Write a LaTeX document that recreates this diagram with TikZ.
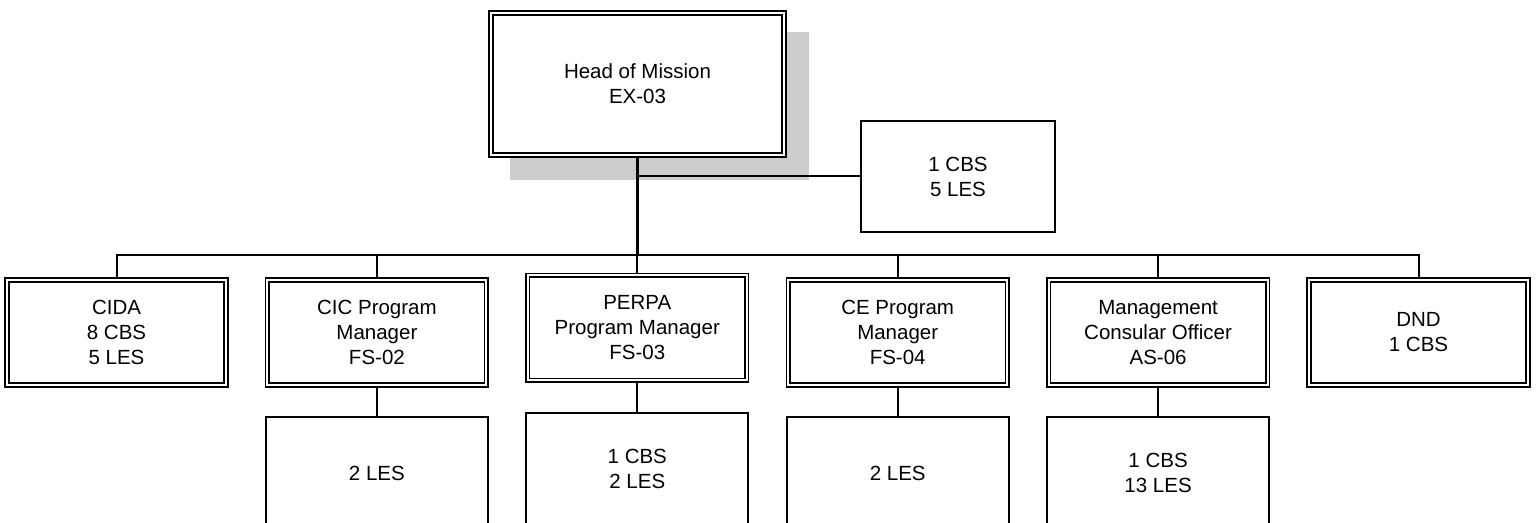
\documentclass[tikz,border=0pt]{standalone}
\usepackage{fontspec}
\setmainfont{Liberation Sans}
\usetikzlibrary{positioning,calc,backgrounds}
\definecolor{shadowGray}{HTML}{CCCCCC}
\tikzset{
  box/.style={draw, fill=white, align=center, inner sep=2pt,
              font=\fontsize{10.25}{12.5}\selectfont},
  % double ruled boxes: outer sep puts the anchors on the outer line
  unit/.style={box, double, line width=0.8pt, double distance=1pt,
               outer sep=1.3pt, minimum width=109.5pt, minimum height=52.5pt},
  staff/.style={box, line width=1pt, outer sep=0pt,
                minimum width=111pt, minimum height=55.5pt},
  wire/.style={line width=1pt},
  trunk/.style={line width=1.7pt},
}

\begin{document}
\begin{tikzpicture}[x=0.5pt, y=-0.5pt]
\clip (0,0) rectangle (1537,523);

% top of the mission
\node[unit, minimum width=146.5pt, minimum height=71pt] (hom) at (637.5,84)
  {Head of Mission\\EX-03};
\begin{scope}[on background layer]
\fill[shadowGray] ([shift={(22,22)}]hom.south west)
  rectangle ([shift={(22,22)}]hom.north east);
\end{scope}
\node[staff, minimum width=97pt] (side) at (958,176.5) {1 CBS\\5 LES};

% programs
\node[unit] (cida) at (116.5,332.5) {CIDA\\8 CBS\\5 LES};
\node[unit] (cic)  at (376.9,332.5) {CIC Program\\Manager\\FS-02};
\node[unit] (perpa) at (637.3,328) {PERPA\\Program Manager\\FS-03};
\node[unit] (ce)   at (897.7,332.5) {CE Program\\Manager\\FS-04};
\node[unit] (mgmt) at (1158.1,332.5) {Management\\Consular Officer\\AS-06};
\node[unit] (dnd)  at (1418.5,332.5) {DND\\1 CBS};

% local staff under each program
\node[staff] (cicS)   at (376.9,473) {2 LES};
\node[staff] (perpaS) at (637.3,469) {1 CBS\\2 LES};
\node[staff] (ceS)    at (897.7,473) {2 LES};
\node[staff] (mgmtS)  at (1158.1,473) {1 CBS\\13 LES};

\coordinate (bus) at (hom.south |- 0,255);

\draw[trunk] (hom.south) -- (bus);
\draw[wire] (side.west) -- (side.west -| hom.south);
\draw[wire] (cida.north) |- (bus) -| (dnd.north);
\draw[wire] (cic.north) -- (cic.north |- bus);
\draw[wire] (perpa.north) -- (perpa.north |- bus);
\draw[wire] (ce.north) -- (ce.north |- bus);
\draw[wire] (mgmt.north) -- (mgmt.north |- bus);

\draw[wire] (cic) -- (cicS);
\draw[wire] (perpa) -- (perpaS);
\draw[wire] (ce) -- (ceS);
\draw[wire] (mgmt) -- (mgmtS);

\end{tikzpicture}
\end{document}
